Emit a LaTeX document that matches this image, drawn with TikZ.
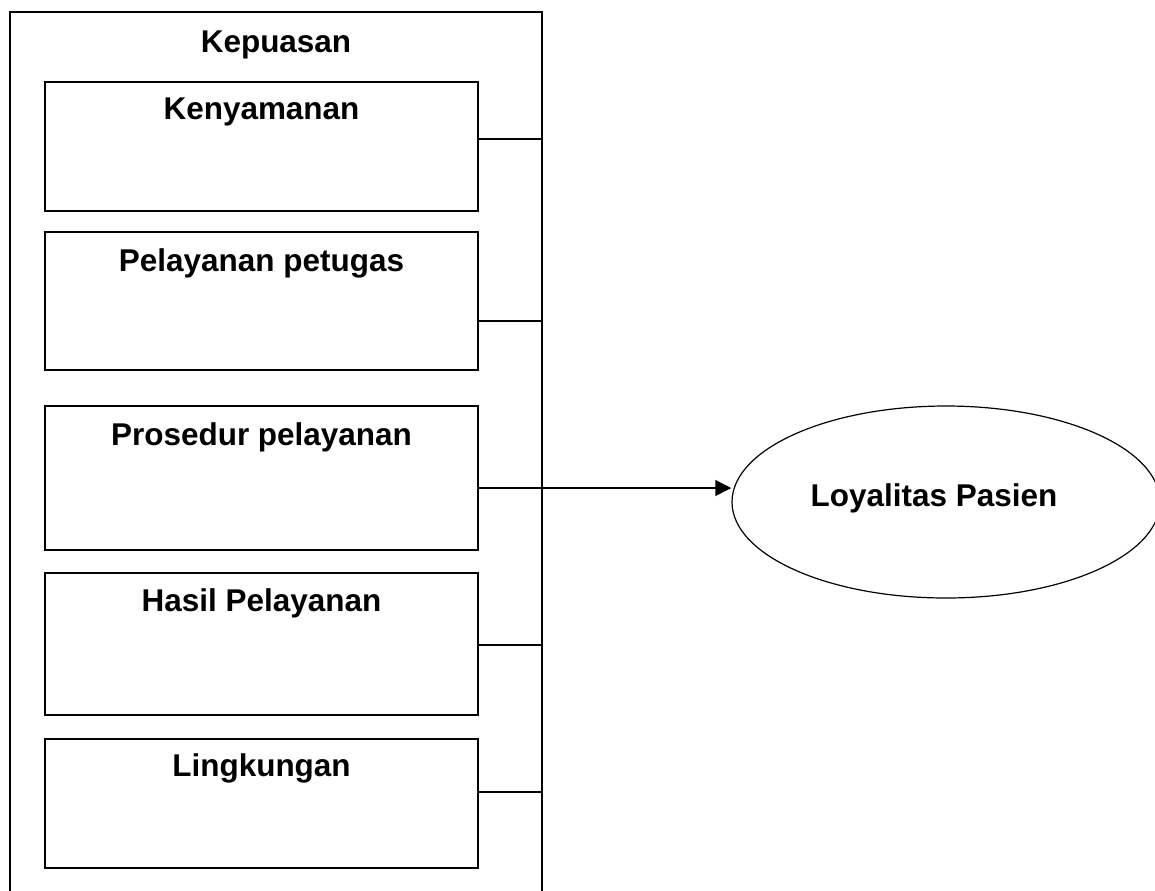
\documentclass[tikz,border=0pt]{standalone}
\usepackage{fontspec}
\setmainfont{Liberation Sans}
\usetikzlibrary{arrows.meta,shapes.geometric}

\tikzset{
  outerbox/.style={draw, line width=1.5pt, inner sep=0pt, minimum width=399pt, minimum height=666pt},
  factorbox/.style={draw, line width=1.5pt, fill=white, inner sep=0pt, minimum width=324.75pt},
  boxlabel/.style={font=\fontsize{23.6}{28}\selectfont\bfseries, inner sep=0pt},
  link/.style={line width=1.1pt},
  mainarrow/.style={line width=2.2pt, -{Triangle[length=12pt, width=11.5pt]}},
  target/.style={draw, ellipse, line width=0.9pt, inner sep=0pt, minimum width=321pt, minimum height=144pt}
}

\begin{document}
\begin{tikzpicture}[x=0.75pt, y=-0.75pt]
  \clip (0,0) rectangle (1155,890);
  \fill[white] (0,0) rectangle (1155,890);

  % surrounding frame for the satisfaction factors
  \node[outerbox] (outer) at (276,456) {};
  \node[boxlabel] (kepuasan) at (276,45) {Kepuasan};

  % factor boxes
  \node[factorbox, minimum height=96.75pt] (b1) at (261.5,146.5) {};
  \node[factorbox, minimum height=103.5pt] (b2) at (261.5,301) {};
  \node[factorbox, minimum height=108pt]   (b3) at (261.5,478) {};
  \node[factorbox, minimum height=106.5pt] (b4) at (261.5,644) {};
  \node[factorbox, minimum height=96.75pt] (b5) at (261.5,803.5) {};

  \node[boxlabel] (t1) at (261.5,112) {Kenyamanan};
  \node[boxlabel] (t2) at (261.5,263) {Pelayanan petugas};
  \node[boxlabel] (t3) at (261.5,437) {Prosedur pelayanan};
  \node[boxlabel] (t4) at (261.5,603) {Hasil Pelayanan};
  \node[boxlabel] (t5) at (261.5,768) {Lingkungan};

  % outcome
  \node[target] (loy) at (946,502) {};
  \node[boxlabel] (tl) at (934,498) {Loyalitas Pasien};

  % connection heights on the frame
  \coordinate (c1) at (542,139);
  \coordinate (c2) at (542,321);
  \coordinate (c3) at (542,488);
  \coordinate (c4) at (542,645);
  \coordinate (c5) at (542,792);

  \draw[link] (b1.east |- c1) -- (c1);
  \draw[link] (b2.east |- c2) -- (c2);
  \draw[link] (b4.east |- c4) -- (c4);
  \draw[link] (b5.east |- c5) -- (c5);
  \draw[mainarrow] (b3.east |- c3) -- (c3 -| loy.west);
\end{tikzpicture}
\end{document}
